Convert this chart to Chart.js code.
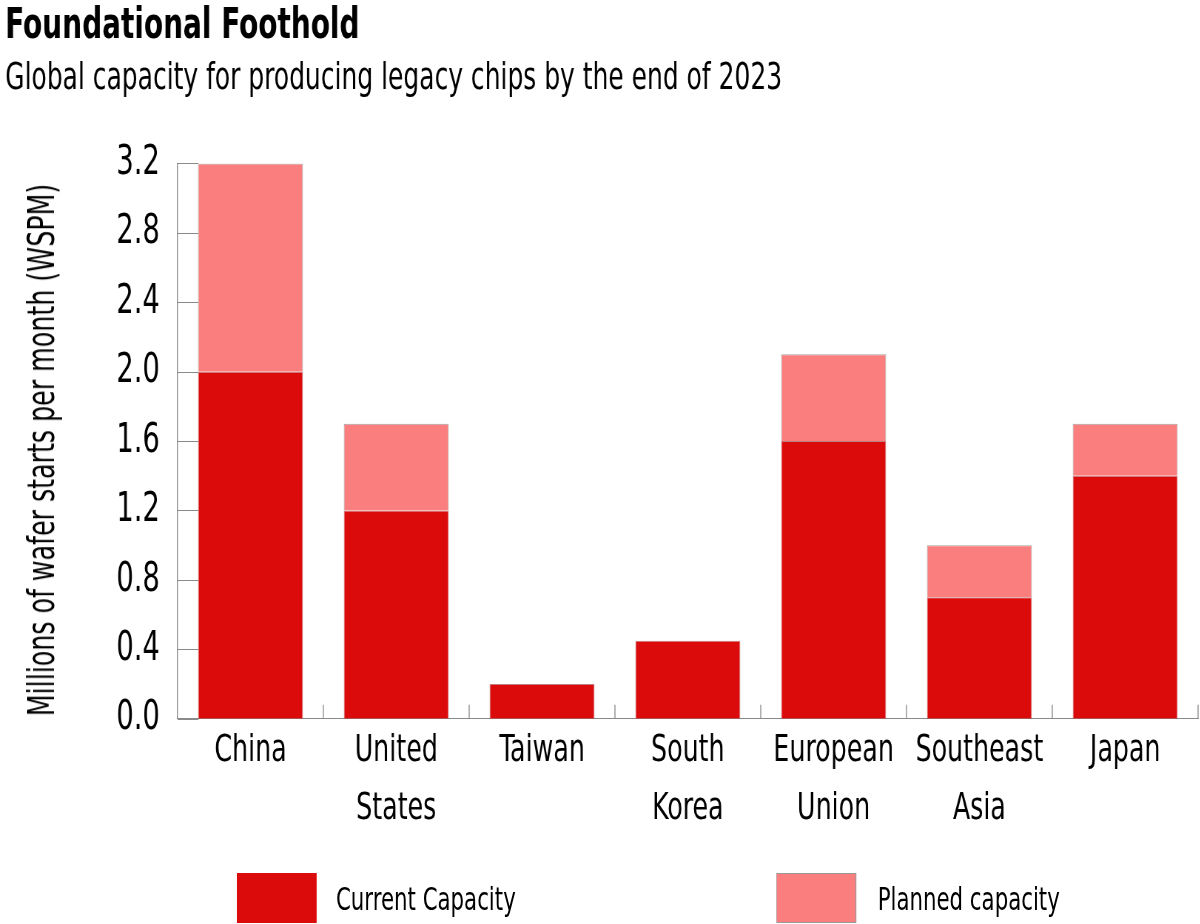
<!DOCTYPE html>
<html lang="en">
<head>
  <meta charset="UTF-8">
  <title>Foundational Foothold</title>
  <script src="https://cdn.jsdelivr.net/npm/chart.js"></script>
  <style>
    html, body { margin: 0; padding: 0; background: #fff; overflow: hidden; }
    .page { position: relative; width: 1200px; height: 924px; overflow: hidden; }
    /* the chart is drawn wide and squeezed, to get the tall condensed look of the original type */
    .chart-container {
      position: absolute; left: 0; top: 0;
      width: 1622px; height: 924px;
      transform: scaleX(0.74); transform-origin: 0 0;
    }
    .y-title {
      position: absolute; left: 41px; top: 450px;
      font: 38px 'DejaVu Sans Condensed', sans-serif; color: #000;
      white-space: nowrap;
      transform: translate(-50%, -50%) rotate(-90deg) scaleX(0.74);
    }
    .legend-item { position: absolute; top: 873px; height: 60px; }
    .legend-item .box { position: absolute; left: 0; top: 0; width: 108px; height: 50px; box-sizing: border-box; }
    .legend-item .label {
      position: absolute; top: 7px; white-space: nowrap;
      font: 32px 'DejaVu Sans Condensed', sans-serif; color: #000;
    }
  </style>
</head>
<body>
  <div class="page">
    <div class="chart-container">
      <canvas id="capacityChart"></canvas>
      <div class="legend-item" style="left: 320px;">
        <div class="box" style="background: #dc0b0b;"></div>
        <div class="label" style="left: 134px;">Current Capacity</div>
      </div>
      <div class="legend-item" style="left: 1049px;">
        <div class="box" style="background: #fb7e7e; border: 1px solid #999;"></div>
        <div class="label" style="left: 137px;">Planned capacity</div>
      </div>
    </div>
    <div class="y-title">Millions of wafer starts per month (WSPM)</div>
  </div>
  <script>
    // Chart data
    const regions = [['China'], ['United', 'States'], ['Taiwan'], ['South', 'Korea'], ['European', 'Union'], ['Southeast', 'Asia'], ['Japan']];
    const currentCapacity = [2.0, 1.2, 0.2, 0.45, 1.6, 0.7, 1.4];
    const plannedCapacity = [1.2, 0.5, 0, 0, 0.5, 0.3, 0.3];
    const yTicks = [0, 0.4, 0.8, 1.2, 1.6, 2.0, 2.4, 2.8, 3.2];

    const FONT = "'DejaVu Sans Condensed', sans-serif";
    const AXIS_COLOR = '#8a8a8a';
    const VLINE = 1.35; // vertical lines get squeezed by the 0.74 scale

    // short ticks drawn inward from the axes
    const innerTicks = {
      id: 'innerTicks',
      afterDatasetsDraw(chart) {
        const { ctx, chartArea, scales } = chart;
        ctx.save();
        ctx.strokeStyle = AXIS_COLOR;
        ctx.lineWidth = 1;
        ctx.beginPath();
        scales.y.ticks.forEach((t, i) => {
          const y = Math.round(scales.y.getPixelForTick(i)) + 0.5;
          ctx.moveTo(chartArea.left, y);
          ctx.lineTo(chartArea.left + 28, y);
        });
        ctx.stroke();
        ctx.lineWidth = VLINE;
        ctx.beginPath();
        const half = (scales.x.getPixelForTick(1) - scales.x.getPixelForTick(0)) / 2;
        for (let i = 0; i < scales.x.ticks.length; i++) {
          const x = scales.x.getPixelForTick(i) + half;
          ctx.moveTo(x, chartArea.bottom);
          ctx.lineTo(x, chartArea.bottom - 14);
        }
        ctx.stroke();
        ctx.restore();
      }
    };

    const ctx = document.getElementById('capacityChart').getContext('2d');
    new Chart(ctx, {
      type: 'bar',
      data: {
        labels: regions,
        datasets: [
          {
            label: 'Current Capacity',
            data: currentCapacity,
            backgroundColor: '#dc0b0b',
            borderColor: 'rgba(150,40,40,0.6)',
            borderWidth: 1
          },
          {
            label: 'Planned capacity',
            data: plannedCapacity,
            backgroundColor: '#fb7e7e',
            borderColor: 'rgba(140,140,140,0.8)',
            borderWidth: 1
          }
        ]
      },
      options: {
        responsive: true,
        maintainAspectRatio: false,
        animation: false,
        layout: { padding: { left: 7, right: 3, top: 2, bottom: 83 } },
        datasets: {
          bar: { categoryPercentage: 0.72, barPercentage: 1 }
        },
        plugins: {
          title: {
            display: true,
            text: 'Foundational Foothold',
            align: 'start',
            color: '#000',
            font: { family: FONT, size: 42, weight: 'bold' },
            padding: { top: 0, bottom: 0 }
          },
          subtitle: {
            display: true,
            text: 'Global capacity for producing legacy chips by the end of 2023',
            align: 'start',
            color: '#000',
            font: { family: FONT, size: 37.5 },
            padding: { top: 4, bottom: 62 }
          },
          legend: { display: false },
          tooltip: { enabled: false }
        },
        scales: {
          x: {
            stacked: true,
            grid: { display: false, drawTicks: false },
            border: { display: true, color: AXIS_COLOR, width: 1 },
            ticks: {
              color: '#000',
              padding: 3,
              autoSkip: false,
              maxRotation: 0,
              font: { family: FONT, size: 38, lineHeight: 1.53 }
            }
          },
          y: {
            stacked: true,
            min: 0,
            max: 3.2,
            afterBuildTicks(scale) {
              scale.ticks = yTicks.map(v => ({ value: v }));
            },
            afterFit(scale) {
              scale.width = 233;
            },
            grid: { display: false, drawTicks: false },
            border: { display: true, color: AXIS_COLOR, width: VLINE },
            ticks: {
              color: '#000',
              padding: 24,
              autoSkip: false,
              font: { family: FONT, size: 41 },
              callback: v => v.toFixed(1)
            }
          }
        }
      },
      plugins: [innerTicks]
    });
  </script>
</body>
</html>
